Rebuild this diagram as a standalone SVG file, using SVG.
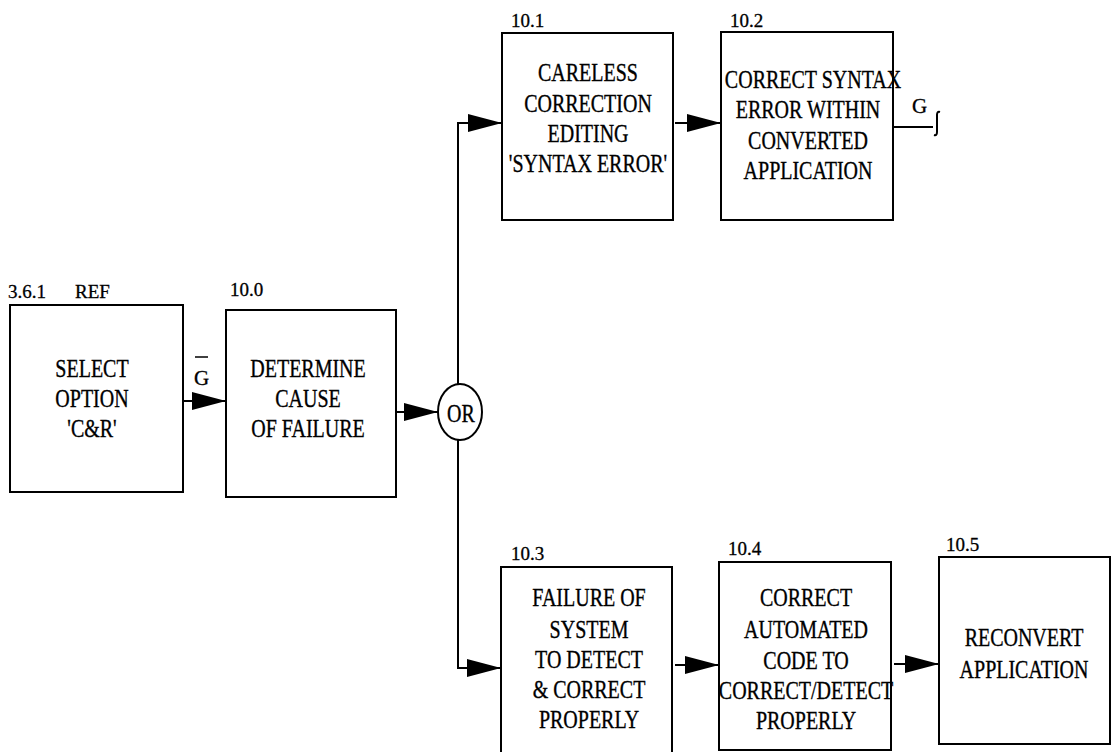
<svg xmlns="http://www.w3.org/2000/svg" width="1111" height="752" viewBox="0 0 1111 752">
<style>
.box{fill:#fff;stroke:#000;stroke-width:2}
.t{font-family:"Times New Roman",Times,"Liberation Serif","DejaVu Serif",serif;font-size:25px;fill:#000;text-anchor:middle;stroke:#000;stroke-width:0.35}
.n{font-family:"Times New Roman",Times,"Liberation Serif","DejaVu Serif",serif;font-size:19px;fill:#000;stroke:#000;stroke-width:0.3}
.ln{fill:none;stroke:#000;stroke-width:2}
</style>
<defs>
<marker id="ah" markerUnits="userSpaceOnUse" markerWidth="36" markerHeight="20" refX="34" refY="9" orient="auto">
<path d="M0,0 L34,9 L0,18 Z" fill="#000"/>
</marker>
</defs>
<rect width="1111" height="752" fill="#fff"/>

<g id="connectors">
<line class="ln" x1="183" y1="401" x2="226" y2="401" marker-end="url(#ah)"/>
<line class="ln" x1="397" y1="412" x2="438" y2="412" marker-end="url(#ah)"/>
<polyline class="ln" points="458,384 458,123 502,123" marker-end="url(#ah)"/>
<polyline class="ln" points="458,440 458,668 501,668" marker-end="url(#ah)"/>
<line class="ln" x1="675" y1="123" x2="721" y2="123" marker-end="url(#ah)"/>
<line class="ln" x1="675" y1="665" x2="719" y2="665" marker-end="url(#ah)"/>
<line class="ln" x1="894" y1="664" x2="939" y2="664" marker-end="url(#ah)"/>
<line class="ln" x1="893" y1="127" x2="933" y2="127"/>
<path class="ln" d="M940,112 Q937,111 937,115 L937,132 Q937,136 934,135" stroke-width="1.8"/>
<text class="n" x="912" y="113" style="font-size:21px">G</text>
<text class="n" x="194" y="385" style="font-size:21px">G</text>
<line x1="195" y1="357" x2="208" y2="357" stroke="#000" stroke-width="1.5"/>
</g>

<g id="node-3.6.1">
<rect class="box" x="10" y="305" width="173" height="187"/>
<text class="n" x="8" y="298">3.6.1</text>
<text class="n" x="75" y="298">REF</text>
<text class="t" transform="translate(92,377) scale(0.8,1)">SELECT</text>
<text class="t" transform="translate(92,407) scale(0.8,1)">OPTION</text>
<text class="t" transform="translate(92,437) scale(0.8,1)">'C&amp;R'</text>
</g>

<g id="node-10.0">
<rect class="box" x="226" y="310" width="170" height="187"/>
<text class="n" x="230" y="296">10.0</text>
<text class="t" transform="translate(308,377) scale(0.8,1)">DETERMINE</text>
<text class="t" transform="translate(308,407) scale(0.8,1)">CAUSE</text>
<text class="t" transform="translate(308,437) scale(0.8,1)">OF FAILURE</text>
</g>

<g id="node-or">
<ellipse cx="460" cy="412" rx="22" ry="28" fill="#fff" stroke="#000" stroke-width="2"/>
<text class="t" transform="translate(461,422) scale(0.8,1)">OR</text>
</g>

<g id="node-10.1">
<rect class="box" x="502" y="33" width="171" height="187"/>
<text class="n" x="511" y="27">10.1</text>
<text class="t" transform="translate(588,81) scale(0.8,1)">CARELESS</text>
<text class="t" transform="translate(588,112) scale(0.8,1)">CORRECTION</text>
<text class="t" transform="translate(588,142) scale(0.8,1)">EDITING</text>
<text class="t" transform="translate(588,172) scale(0.8,1)">'SYNTAX ERROR'</text>
</g>

<g id="node-10.2">
<rect class="box" x="721" y="32" width="172" height="188"/>
<text class="n" x="730" y="27">10.2</text>
<text class="t" transform="translate(813,88) scale(0.8,1)">CORRECT SYNTAX</text>
<text class="t" transform="translate(808,118) scale(0.8,1)">ERROR WITHIN</text>
<text class="t" transform="translate(808,149) scale(0.8,1)">CONVERTED</text>
<text class="t" transform="translate(808,179) scale(0.8,1)">APPLICATION</text>
</g>

<g id="node-10.3">
<rect class="box" x="501" y="567" width="171" height="200"/>
<text class="n" x="511" y="560">10.3</text>
<text class="t" transform="translate(589,606) scale(0.8,1)">FAILURE OF</text>
<text class="t" transform="translate(589,638) scale(0.8,1)">SYSTEM</text>
<text class="t" transform="translate(589,668) scale(0.8,1)">TO DETECT</text>
<text class="t" transform="translate(589,698) scale(0.8,1)">&amp; CORRECT</text>
<text class="t" transform="translate(589,728) scale(0.8,1)">PROPERLY</text>
</g>

<g id="node-10.4">
<rect class="box" x="719" y="562" width="172" height="188"/>
<text class="n" x="728" y="555">10.4</text>
<text class="t" transform="translate(806,606) scale(0.8,1)">CORRECT</text>
<text class="t" transform="translate(806,638) scale(0.8,1)">AUTOMATED</text>
<text class="t" transform="translate(806,669) scale(0.8,1)">CODE TO</text>
<text class="t" transform="translate(806,699) scale(0.8,1)">CORRECT/DETECT</text>
<text class="t" transform="translate(806,729) scale(0.8,1)">PROPERLY</text>
</g>

<g id="node-10.5">
<rect class="box" x="939" y="557" width="171" height="187"/>
<text class="n" x="946" y="551">10.5</text>
<text class="t" transform="translate(1024,646) scale(0.8,1)">RECONVERT</text>
<text class="t" transform="translate(1024,678) scale(0.8,1)">APPLICATION</text>
</g>
</svg>
